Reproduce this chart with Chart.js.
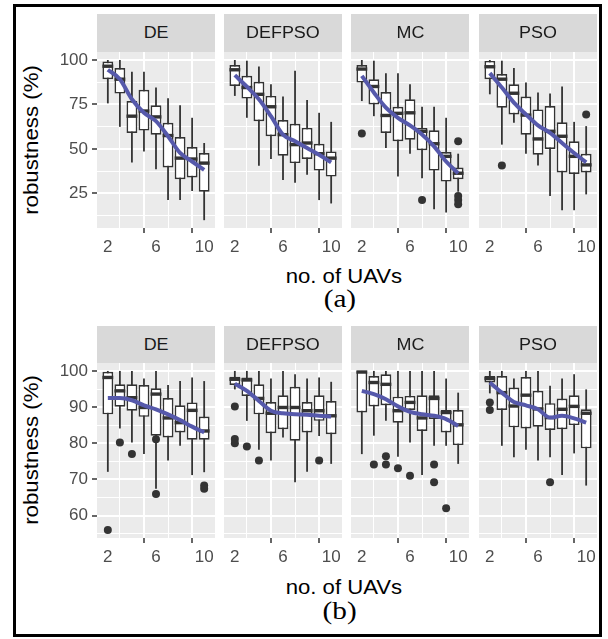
<!DOCTYPE html>
<html>
<head>
<meta charset="utf-8">
<script src="https://cdn.jsdelivr.net/npm/chart.js@4.4.1/dist/chart.umd.min.js"></script>
<style>
  body { margin: 0; width: 608px; height: 639px; background: #fff; position: relative; overflow: hidden;
         font-family: 'Liberation Sans', Arial, sans-serif; }
  .frame { position: absolute; left: 13px; top: 4px; width: 583px; height: 627px; border: 3px solid #000; }
  .strip { position: absolute; background: #D9D9D9; color: #1A1A1A; font-size: 16px; text-align: center; }
  .strip span { display: inline-block; transform: scaleX(1.12); }
  .ytitle { position: absolute; width: 200px; height: 24px; line-height: 24px; font-size: 21px; text-align: center;
            color: #000; transform: rotate(-90deg) scaleX(1.06); }
  .xtitle { position: absolute; width: 300px; line-height: 20.5px; font-size: 20.5px; text-align: center; color: #000; }
  .xtitle span { display: inline-block; transform: scaleX(1.08); }
  .cap { position: absolute; width: 200px; line-height: 25px; font-size: 25px; text-align: center; color: #000;
         font-family: 'Liberation Serif', 'Times New Roman', serif; }
  .cap span { display: inline-block; transform: scaleX(1.17); }
  canvas { position: absolute; }
</style>
</head>
<body>
<div class="frame"></div>
<script>
// ── 데이터 ─────────────────────────────────────────────
const methods = ['DE', 'DEFPSO', 'MC', 'PSO'];
const uavs = [2, 3, 4, 5, 6, 7, 8, 9, 10];
const xTicks = [2, 4, 6, 8, 10];
const xLabels = [2, 6, 10];
const topYTicks = [12.5, 25, 37.5, 50, 62.5, 75, 87.5, 100];
const topYLabels = [25, 50, 75, 100];
const botYTicks = [55, 60, 65, 70, 75, 80, 85, 90, 95, 100];
const botYLabels = [60, 70, 80, 90, 100];

// (a) 상단: DE, DEFPSO, MC, PSO
const topLow = [
  [75.6, 62.4, 42.4, 48.6, 38.6, 21.2, 21.2, 26.3, 9.9],
  [79.8, 67.5, 40.5, 44.3, 32.5, 31.0, 35.4, 21.2, 19.3],
  [76.9, 68.4, 50.5, 34.4, 47.3, 33.5, 16.1, 14.2, 25.9],
  [80.7, 52.4, 64.7, 47.3, 40.7, 23.5, 15.5, 15.5, 24.4]
];
const topQ1 = [
  [89.2, 81.1, 59.0, 60.3, 58.0, 39.5, 32.9, 33.9, 25.9],
  [85.4, 78.3, 65.6, 57.1, 46.1, 42.0, 44.3, 37.8, 34.4],
  [87.3, 75.0, 59.0, 54.3, 55.2, 49.2, 37.8, 31.6, 32.9],
  [89.2, 73.2, 69.4, 58.0, 46.7, 49.9, 36.7, 35.9, 36.7]
];
const topMed = [
  [96.5, 89.2, 68.4, 71.3, 68.0, 57.5, 44.8, 44.3, 42.0],
  [94.5, 84.5, 80.7, 73.7, 58.0, 52.4, 53.3, 47.3, 44.8],
  [94.9, 85.1, 68.8, 70.0, 70.3, 59.9, 52.9, 45.8, 36.3],
  [96.2, 89.2, 81.3, 69.0, 55.6, 59.9, 57.1, 45.8, 41.0]
];
const topQ3 = [
  [99.1, 95.5, 76.9, 83.2, 74.5, 64.7, 56.7, 51.1, 47.7],
  [97.2, 91.1, 87.7, 79.8, 66.2, 64.1, 61.8, 52.9, 48.6],
  [97.2, 89.2, 82.0, 73.7, 77.9, 61.8, 60.5, 48.2, 39.5],
  [99.5, 92.1, 86.4, 79.4, 72.2, 74.1, 65.0, 54.3, 47.3]
];
const topHigh = [
  [100, 100, 93.4, 93.4, 84.5, 78.5, 74.5, 67.5, 53.3],
  [100, 99.6, 96.4, 86.4, 79.4, 94.0, 77.5, 70.3, 65.2],
  [100, 99.6, 92.6, 92.6, 86.4, 73.7, 73.7, 67.5, 47.3],
  [100, 99.6, 95.5, 87.3, 81.7, 81.1, 85.1, 65.2, 62.8]
];
const topOut = [
  [],
  [],
  [[2, 58.6], [7, 21.2], [10, 54.3], [10, 23.5], [10, 21.2], [10, 18.9]],
  [[3, 40.7], [10, 69.4]]
];
const topSmooth = [
  [94.5, 89.2, 77.9, 70.3, 65.6, 57.1, 47.7, 42.9, 38.2],
  [91.5, 85.0, 77.9, 68.4, 58.0, 54.3, 50.5, 46.7, 42.4],
  [91.1, 81.7, 73.2, 67.5, 63.2, 58.1, 51.4, 42.9, 36.3],
  [92.6, 84.5, 76.0, 69.4, 63.2, 59.0, 53.3, 47.7, 42.4]
];

// (b) 하단
const botLow = [
  [72.1, 84.1, 80.2, 77.0, 67.4, 75.2, 79.3, 71.2, 72.0],
  [94.9, 86.2, 78.2, 75.2, 81.6, 69.2, 72.1, 82.0, 74.3],
  [77.0, 82.1, 86.2, 76.3, 80.2, 71.2, 79.3, 79.3, 74.3],
  [93.8, 79.3, 76.1, 78.2, 75.2, 76.1, 71.2, 77.2, 68.3]
];
const botQ1 = [
  [88.0, 90.1, 89.0, 87.3, 82.1, 81.6, 83.0, 81.0, 81.0],
  [96.1, 93.1, 88.0, 82.8, 83.9, 80.7, 83.0, 86.2, 82.5],
  [88.5, 90.2, 90.5, 85.7, 89.2, 83.4, 86.7, 83.0, 79.5],
  [96.8, 89.2, 84.4, 84.1, 84.6, 83.7, 83.9, 85.0, 78.6]
];
const botMed = [
  [98.2, 94.5, 92.6, 89.9, 93.6, 87.0, 85.7, 89.1, 83.4],
  [97.7, 97.5, 92.4, 88.3, 89.9, 89.9, 89.0, 89.0, 87.6],
  [99.7, 96.8, 96.3, 89.0, 91.3, 87.0, 92.4, 88.5, 85.1],
  [97.9, 94.0, 90.3, 93.3, 89.5, 87.1, 89.4, 90.2, 88.3]
];
const botQ3 = [
  [99.8, 96.3, 96.3, 96.1, 95.2, 92.5, 90.5, 91.3, 87.4],
  [98.4, 98.2, 96.3, 91.4, 93.3, 95.6, 91.4, 93.3, 91.7],
  [100, 98.6, 99.1, 92.9, 93.1, 93.3, 93.3, 89.2, 89.2],
  [98.6, 98.6, 95.4, 98.3, 94.5, 91.1, 92.4, 93.3, 89.4]
];
const botHigh = [
  [100, 100, 100, 97.9, 100, 96.1, 97.2, 98.2, 97.2],
  [100, 100, 100, 97.9, 100, 99.1, 97.9, 98.2, 97.0],
  [100, 100, 100, 100, 100, 100, 100, 97.9, 94.0],
  [100, 100, 97.9, 100, 100, 95.9, 97.9, 99.1, 94.9]
];
const botOut = [
  [[2, 56.0], [3, 80.2], [4, 77.0], [6, 81.1], [6, 66.0], [10, 68.3], [10, 67.4]],
  [[2, 90.2], [2, 81.2], [2, 80.0], [3, 79.1], [4, 75.2], [9, 75.2]],
  [[3, 74.1], [4, 76.4], [4, 74.1], [5, 73.1], [6, 71.0], [8, 74.1], [8, 69.2], [9, 62.0]],
  [[2, 91.3], [2, 89.2], [7, 69.2]]
];
const botSmooth = [
  [92.5, 92.5, 91.9, 90.5, 89.4, 88.0, 86.4, 84.6, 83.0],
  [96.5, 94.5, 91.7, 89.0, 88.3, 88.0, 87.9, 87.6, 87.4],
  [94.5, 93.6, 92.2, 90.2, 88.7, 88.0, 87.6, 86.7, 84.8],
  [96.8, 94.0, 91.4, 90.5, 89.4, 87.1, 87.6, 86.9, 85.7]
];

// ── 레이아웃 ───────────────────────────────────────────
const panelLeft = [97, 224, 351, 479];
const panelW = 118;
const padT = 16;   // 눈금 라벨 넘침용 여백
const rows = [
  { plotTop: 52, plotH: 176, stripTop: 14, stripH: 38, yMin: 5.5, yMax: 104.5,
    yTicks: topYTicks, yLabels: topYLabels,
    low: topLow, q1: topQ1, med: topMed, q3: topQ3, high: topHigh, out: topOut, smooth: topSmooth,
    titleTop: 265.6, capTop: 285.6, cap: '(a)', yTitleMid: 140 },
  { plotTop: 363, plotH: 175, stripTop: 326, stripH: 37, yMin: 53.8, yMax: 102.2,
    yTicks: botYTicks, yLabels: botYLabels,
    low: botLow, q1: botQ1, med: botMed, q3: botQ3, high: botHigh, out: botOut, smooth: botSmooth,
    titleTop: 577.3, capTop: 597.6, cap: '(b)', yTitleMid: 450 }
];

const INK = '#333333';
const FONT = "'Liberation Sans', Arial, sans-serif";
Chart.defaults.font.family = FONT;

// 패널 배경 + 수염 + 중앙값
const boxPlugin = {
  id: 'box',
  beforeDraw(chart) {
    const a = chart.chartArea, c = chart.ctx;
    c.save();
    c.fillStyle = '#EBEBEB';
    c.fillRect(a.left, a.top, a.right - a.left, a.bottom - a.top);
    c.restore();
  },
  beforeDatasetsDraw(chart, args, opts) {
    const c = chart.ctx, xs = chart.scales.x, ys = chart.scales.y;
    c.save();
    c.strokeStyle = INK;
    c.lineWidth = 1.8;
    uavs.forEach((u, i) => {
      const x = xs.getPixelForValue(u);
      c.beginPath();
      c.moveTo(x, ys.getPixelForValue(opts.low[i]));
      c.lineTo(x, ys.getPixelForValue(opts.high[i]));
      c.stroke();
    });
    c.restore();
  },
  afterDatasetDraw(chart, args, opts) {
    if (args.index !== 0) return;
    const c = chart.ctx, ys = chart.scales.y;
    c.save();
    c.strokeStyle = INK;
    c.lineWidth = 3.4;
    args.meta.data.forEach((el, i) => {
      const y = ys.getPixelForValue(opts.med[i]);
      c.beginPath();
      c.moveTo(el.x - el.width / 2, y);
      c.lineTo(el.x + el.width / 2, y);
      c.stroke();
    });
    c.restore();
  }
};

function addDiv(cls, css, text) {
  const d = document.createElement('div');
  d.className = cls;
  d.style.cssText = css;
  if (text !== undefined) {
    const s = document.createElement('span');
    s.textContent = text;
    d.appendChild(s);
  }
  document.body.appendChild(d);
  return d;
}

rows.forEach((r) => {
  // 축 제목, 캡션
  const yt = addDiv('ytitle', `left:${31 - 100}px;top:${r.yTitleMid - 12}px`);
  yt.textContent = 'robustness (%)';
  addDiv('xtitle', `left:${344 - 150}px;top:${r.titleTop}px`, 'no. of UAVs');
  addDiv('cap', `left:${340 - 100}px;top:${r.capTop}px`, r.cap);

  methods.forEach((m, mi) => {
    const first = mi === 0;
    const yW = first ? 57 : 0;
    const padL = first ? 0 : 6;
    const padR = 6;
    const cv = document.createElement('canvas');
    cv.width = panelW + yW + padL + padR;
    cv.height = r.plotH + 30 + padT;
    cv.style.left = (panelLeft[mi] - yW - padL) + 'px';
    cv.style.top = (r.plotTop - padT) + 'px';
    document.body.appendChild(cv);

    // 스트립은 캔버스 여백 위에 겹침
    addDiv('strip', `left:${panelLeft[mi]}px;top:${r.stripTop}px;width:${panelW}px;height:${r.stripH}px;line-height:${r.stripH}px;z-index:2`, m);

    const boxes = uavs.map((u, i) => ({ x: u, y: [r.q1[mi][i], r.q3[mi][i]] }));
    const outs = r.out[mi].map(p => ({ x: p[0], y: p[1] }));
    const smooth = uavs.map((u, i) => ({ x: u, y: r.smooth[mi][i] }));

    new Chart(cv, {
      type: 'bar',
      data: {
        datasets: [
          {
            type: 'bar', data: boxes, order: 3,
            backgroundColor: '#FFFFFF', borderColor: INK, borderWidth: 1.7,
            borderSkipped: false, barPercentage: 0.9, categoryPercentage: 1.0
          },
          {
            type: 'line', data: outs, order: 2, showLine: false,
            pointRadius: 4, pointBackgroundColor: INK, pointBorderWidth: 0, borderColor: INK
          },
          {
            type: 'line', data: smooth, order: 1,
            borderColor: '#5659AB', borderWidth: 4, pointRadius: 0,
            cubicInterpolationMode: 'monotone', fill: false
          }
        ]
      },
      options: {
        responsive: false,
        animation: false,
        devicePixelRatio: 1,
        layout: { autoPadding: false, padding: { left: padL, right: padR, top: padT, bottom: 0 } },
        plugins: {
          legend: { display: false },
          tooltip: { enabled: false },
          box: { low: r.low[mi], high: r.high[mi], med: r.med[mi] }
        },
        scales: {
          x: {
            type: 'linear', min: 1.1, max: 10.9, offset: false,
            afterBuildTicks: s => { s.ticks = xTicks.map(v => ({ value: v })); },
            afterFit: s => { s.height = 30; },
            ticks: {
              autoSkip: false, maxRotation: 0, padding: 4,
              color: '#4D4D4D', font: { size: 17, family: FONT },
              callback: v => xLabels.includes(v) ? String(v) : ''
            },
            grid: {
              color: '#FFFFFF',
              lineWidth: c => (c.tick && xLabels.includes(c.tick.value)) ? 2 : 1,
              tickLength: 5, tickWidth: 1.5,
              tickColor: c => (c.tick && xLabels.includes(c.tick.value)) ? INK : 'rgba(0,0,0,0)'
            },
            border: { display: false }
          },
          y: {
            type: 'linear', min: r.yMin, max: r.yMax,
            afterBuildTicks: s => { s.ticks = r.yTicks.map(v => ({ value: v })); },
            afterFit: s => { s.width = yW; },
            ticks: {
              display: first, autoSkip: false, padding: 4,
              color: '#4D4D4D', font: { size: 17, family: FONT },
              callback: v => r.yLabels.includes(v) ? String(v) : ''
            },
            grid: {
              color: '#FFFFFF',
              lineWidth: c => (c.tick && r.yLabels.includes(c.tick.value)) ? 2 : 1,
              drawTicks: first, tickLength: 5, tickWidth: 1.5,
              tickColor: c => (c.tick && r.yLabels.includes(c.tick.value)) ? INK : 'rgba(0,0,0,0)'
            },
            border: { display: false }
          }
        }
      },
      plugins: [boxPlugin]
    });
  });
});
</script>
</body>
</html>
